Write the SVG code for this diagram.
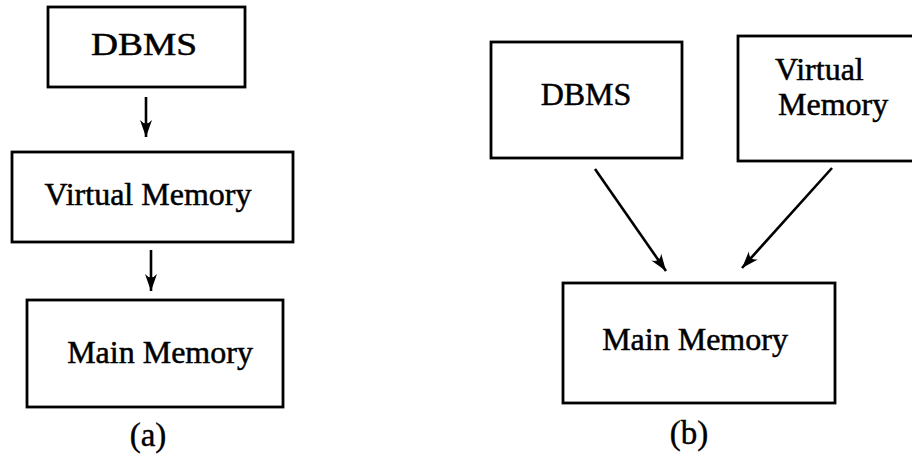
<svg xmlns="http://www.w3.org/2000/svg" width="912" height="457" viewBox="0 0 912 457">
  <style>
    .box { fill: #fff; stroke: #000; stroke-width: 2.8; }
    .lbl { font-family: "Liberation Serif", "Times New Roman", serif; font-size: 32px; fill: #000; stroke: #000; stroke-width: 0.5; }
    .cap { font-family: "Liberation Serif", "Times New Roman", serif; font-size: 33px; fill: #000; stroke: #000; stroke-width: 0.4; text-anchor: middle; }
    .mid { text-anchor: middle; }
    .edge { stroke: #000; stroke-width: 2.6; fill: none; marker-end: url(#head); }
  </style>
  <defs>
    <marker id="head" markerUnits="userSpaceOnUse" viewBox="-18 -8 20 16" refX="0" refY="0" markerWidth="20" markerHeight="16" orient="auto">
      <path d="M0,0 L-17,-6 Q-10,0 -17,6 Z" fill="#000"/>
    </marker>
  </defs>
  <rect width="912" height="457" fill="#fff"/>

  <!-- (a) layered arrangement -->
  <g id="a-dbms">
    <rect class="box" x="48" y="7" width="197" height="80"/>
    <text class="lbl mid" x="144" y="55" textLength="106" lengthAdjust="spacingAndGlyphs">DBMS</text>
  </g>
  <g id="a-virtual">
    <rect class="box" x="12" y="152" width="281" height="90"/>
    <text class="lbl mid" x="148" y="205">Virtual Memory</text>
  </g>
  <g id="a-main">
    <rect class="box" x="27" y="300" width="256" height="107"/>
    <text class="lbl mid" x="160" y="363">Main Memory</text>
  </g>
  <text id="a-caption" class="cap" x="148" y="446">(a)</text>

  <!-- (b) side-by-side arrangement -->
  <g id="b-dbms">
    <rect class="box" x="491" y="42" width="191" height="116"/>
    <text class="lbl mid" x="586" y="105">DBMS</text>
  </g>
  <g id="b-virtual">
    <rect class="box" x="738" y="36" width="190" height="125"/>
    <text class="lbl" x="775" y="80">Virtual</text>
    <text class="lbl" x="778" y="115">Memory</text>
  </g>
  <g id="b-main">
    <rect class="box" x="563" y="283" width="272" height="120"/>
    <text class="lbl mid" x="695" y="350">Main Memory</text>
  </g>
  <text id="b-caption" class="cap" x="689" y="444">(b)</text>

  <g id="connectors">
    <line class="edge" x1="146" y1="97" x2="146" y2="137"/>
    <line class="edge" x1="151" y1="250" x2="151" y2="291"/>
    <line class="edge" x1="595" y1="169" x2="666" y2="271"/>
    <line class="edge" x1="832" y1="168" x2="742" y2="268"/>
  </g>
</svg>
